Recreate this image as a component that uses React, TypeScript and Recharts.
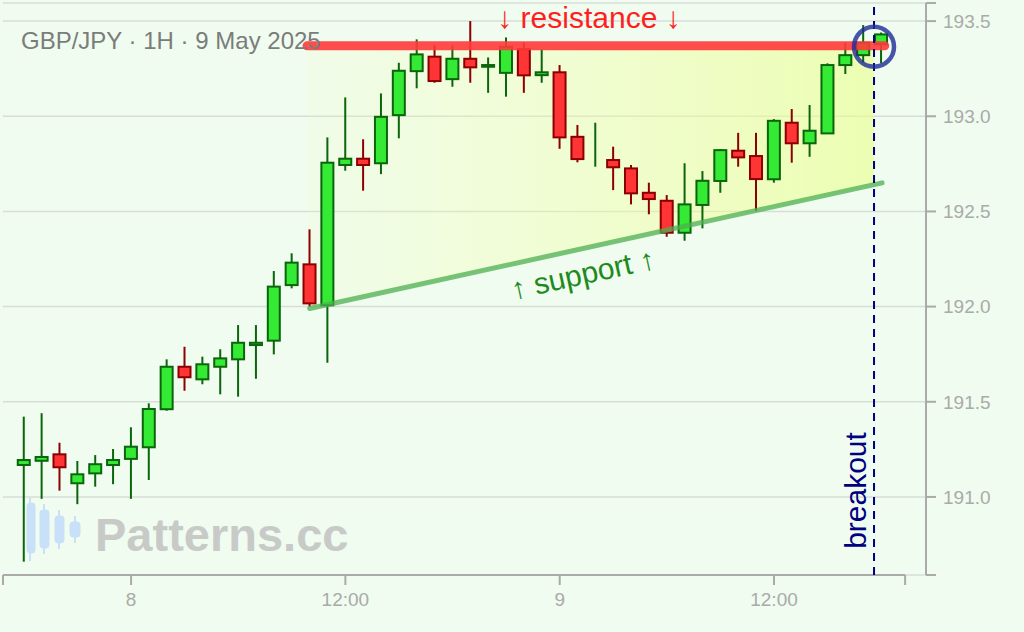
import { ComposedChart, Bar, Area, XAxis, YAxis, CartesianGrid, ReferenceLine, ReferenceDot } from 'recharts'

// hours from 8 May 00:00, one candle per hour
const hours = [-6, -5, -4, -3, -2, -1, 0, 1, 2, 3, 4, 5, 6, 7, 8, 9, 10, 11, 12, 13, 14, 15, 16, 17, 18, 19, 20, 21, 22, 23, 24, 25, 26, 27, 28, 29, 30, 31, 32, 33, 34, 35, 36, 37, 38, 39, 40, 41, 42]
const opens = [191.168, 191.19, 191.224, 191.072, 191.124, 191.168, 191.2, 191.261, 191.461, 191.684, 191.618, 191.684, 191.723, 191.798, 191.821, 192.113, 192.222, 192.007, 192.744, 192.777, 192.753, 193.006, 193.237, 193.313, 193.195, 193.302, 193.26, 193.228, 193.353, 193.216, 193.231, 192.892, 192.85, 192.77, 192.726, 192.598, 192.556, 192.388, 192.534, 192.66, 192.819, 192.791, 192.669, 192.966, 192.858, 192.91, 193.269, 193.321, 193.378]
const highs = [191.422, 191.44, 191.285, 191.189, 191.22, 191.252, 191.366, 191.492, 191.723, 191.789, 191.737, 191.776, 191.903, 191.903, 192.187, 192.28, 192.406, 192.889, 193.099, 192.879, 193.12, 193.281, 193.404, 193.374, 193.374, 193.5, 193.309, 193.414, 193.386, 193.351, 193.269, 192.954, 192.966, 192.84, 192.744, 192.651, 192.586, 192.753, 192.712, 192.828, 192.913, 192.913, 192.985, 193.038, 193.059, 193.278, 193.386, 193.479, 193.44]
const lows = [190.66, 190.99, 191.033, 190.962, 191.054, 191.067, 190.99, 191.089, 191.453, 191.558, 191.592, 191.539, 191.527, 191.621, 191.749, 192.096, 192.0, 191.705, 192.714, 192.609, 192.696, 192.884, 193.147, 193.176, 193.155, 193.176, 193.123, 193.103, 193.123, 193.176, 192.829, 192.758, 192.735, 192.612, 192.537, 192.485, 192.367, 192.346, 192.411, 192.598, 192.735, 192.504, 192.651, 192.756, 192.787, 192.907, 193.222, 193.283, 193.278]
const closes = [191.194, 191.21, 191.156, 191.119, 191.172, 191.194, 191.264, 191.462, 191.684, 191.629, 191.697, 191.728, 191.81, 191.81, 192.105, 192.231, 192.017, 192.756, 192.777, 192.744, 192.997, 193.239, 193.325, 193.185, 193.302, 193.257, 193.269, 193.365, 193.215, 193.231, 192.889, 192.775, 192.85, 192.732, 192.595, 192.565, 192.388, 192.537, 192.661, 192.822, 192.784, 192.67, 192.976, 192.858, 192.924, 193.269, 193.321, 193.386, 193.43]

const xDomain = [-7.17, 44.51]
const xTicks = [-7.17, 0, 12, 24, 36, 43.34]
const xTickLabels: Record<number, string> = { 0: '8', 12: '12:00', 24: '9', 36: '12:00' }
const yDomain = [190.59, 193.595]
const yTicks = [190.59, 191, 191.5, 192, 192.5, 193, 193.5, 193.595]
const yTickLabels = [191, 191.5, 192, 192.5, 193, 193.5]

const resistanceLevel = 193.37
const resistanceSpan = [9.85, 42.2]
const supportStart = { t: 10, v: 191.99 }
const supportEnd = { t: 42.05, v: 192.65 }
const breakoutHour = 41.6
const zoneT = [9.85, 41.6]
const zoneLow = [191.987, 192.641]

const candles = hours.map((t, i) => ({ t, open: opens[i], high: highs[i], low: lows[i], close: closes[i] }))
const zone = zoneT.map((t, i) => ({ t, lo: zoneLow[i], hi: resistanceLevel }))

const FONT = '"Liberation Sans", Arial, Helvetica, sans-serif'
const BODY_W = 12

function Candle(props: any) {
  const { x, y, width, height, payload } = props
  const { open, close, high, low } = payload
  const up = close >= open
  const k = height / (high - low)
  const top = y + (high - Math.max(open, close)) * k
  const bottom = y + (high - Math.min(open, close)) * k
  const cx = x + width / 2
  const edge = up ? '#0b650b' : '#8b0000'
  const fill = up ? '#35ea35' : '#ff3535'
  return (
    <g>
      <line x1={cx} x2={cx} y1={y} y2={y + height} stroke={edge} strokeWidth={2} />
      {open !== close && (
        <rect x={cx - BODY_W / 2} y={top} width={BODY_W} height={Math.max(bottom - top, 1)} fill={fill} stroke={edge} strokeWidth={2} />
      )}
    </g>
  )
}

export default function App() {
  return (
    <div style={{ position: 'relative', width: 1024, height: 632, background: '#effcef', fontFamily: FONT }}>
      <style>{'body{margin:0}'}</style>
      {/* watermark */}
      <svg width={1024} height={632} style={{ position: 'absolute', left: 0, top: 0 }}>
        <g fill="#c9e1f8" stroke="#c9e1f8">
          <line x1={30} x2={30} y1={498} y2={561} strokeWidth={2} />
          <rect x={27} y={503} width={8} height={50} rx={3} />
          <line x1={44} x2={44} y1={504} y2={554} strokeWidth={2} />
          <rect x={40} y={510} width={9} height={38} rx={3} />
          <line x1={59} x2={59} y1={510} y2={549} strokeWidth={2} />
          <rect x={55} y={516} width={9} height={27} rx={3} />
          <line x1={75} x2={75} y1={516} y2={543} strokeWidth={2} />
          <rect x={70} y={522} width={10} height={15} rx={3} />
        </g>
        <text x={95} y={551} fontSize={47} fontWeight="bold" fill="#c8cac8" fontFamily={FONT}>Patterns.cc</text>
      </svg>
      <div style={{ position: 'absolute', left: 0, top: 0 }}>
        <ComposedChart width={1024} height={632} data={candles} margin={{ top: 3, right: 0, bottom: 0, left: 3 }}>
          <defs>
            <linearGradient id="zoneFill" x1="0" y1="0" x2="1" y2="0">
              <stop offset="0%" stopColor="#fbff9a" stopOpacity={0.08} />
              <stop offset="100%" stopColor="#eaff8a" stopOpacity={0.6} />
            </linearGradient>
          </defs>
          <CartesianGrid vertical={false} stroke="#d9ddd9" strokeWidth={1.5} />
          <XAxis
            dataKey="t"
            type="number"
            domain={xDomain}
            allowDataOverflow
            ticks={xTicks}
            interval={0}
            tickFormatter={(v: number) => xTickLabels[v] ?? ''}
            axisLine={false}
            tickLine={{ stroke: '#aaaaaa', strokeWidth: 2 }}
            tickSize={10}
            tickMargin={8}
            tick={{ fill: '#aaaaaa', fontSize: 19, fontFamily: FONT }}
            height={57}
          />
          <YAxis
            orientation="right"
            type="number"
            domain={yDomain}
            allowDataOverflow
            ticks={yTicks}
            interval={0}
            tickFormatter={(v: number) => (yTickLabels.includes(v) ? v.toFixed(1) : '')}
            axisLine={{ stroke: '#aaaaaa', strokeWidth: 2 }}
            tickLine={{ stroke: '#aaaaaa', strokeWidth: 2 }}
            tickSize={10}
            tickMargin={7}
            tick={{ fill: '#aaaaaa', fontSize: 19, fontFamily: FONT }}
            width={98}
          />
          <ReferenceLine
            segment={[{ x: xTicks[0], y: yDomain[0] }, { x: xTicks[xTicks.length - 1], y: yDomain[0] }]}
            stroke="#aaaaaa"
            strokeWidth={2}
            ifOverflow="visible"
          />
          <Area
            data={zone}
            dataKey={(d: any) => [d.lo, d.hi]}
            type="linear"
            stroke="none"
            fill="url(#zoneFill)"
            fillOpacity={1}
            dot={false}
            activeDot={false}
            isAnimationActive={false}
          />
          <ReferenceLine
            segment={[{ x: resistanceSpan[0], y: resistanceLevel }, { x: resistanceSpan[1], y: resistanceLevel }]}
            stroke="#ff3a3a"
            strokeOpacity={0.9}
            strokeWidth={9}
            strokeLinecap="round"
          />
          <ReferenceLine
            segment={[{ x: supportStart.t, y: supportStart.v }, { x: supportEnd.t, y: supportEnd.v }]}
            stroke="#4caf50"
            strokeOpacity={0.75}
            strokeWidth={5}
            strokeLinecap="round"
          />
          <Bar dataKey={(d: any) => [d.low, d.high]} barSize={12} shape={Candle} isAnimationActive={false} />
          <ReferenceLine x={breakoutHour} stroke="#000080" strokeWidth={2} strokeDasharray="8 6" />
          <ReferenceDot x={breakoutHour} y={193.365} r={20} fill="none" stroke="#1c2a98" strokeOpacity={0.8} strokeWidth={4.5} />
          <ReferenceDot
            x={25.64}
            y={193.463}
            r={0}
            shape={(p: any) => (
              <text x={p.cx} y={p.cy} textAnchor="middle" fontSize={30} fill="#ff1f1f" fontFamily={FONT}>↓ resistance ↓</text>
            )}
          />
          <ReferenceDot
            x={25.42}
            y={192.119}
            r={0}
            shape={(p: any) => (
              <text x={p.cx} y={p.cy} textAnchor="middle" fontSize={30} fill="#1e8a1e" fontFamily={FONT} transform={`rotate(-12.4 ${p.cx} ${p.cy})`}>↑ support ↑</text>
            )}
          />
          <ReferenceDot
            x={41.15}
            y={191.034}
            r={0}
            shape={(p: any) => (
              <text x={p.cx} y={p.cy} textAnchor="middle" fontSize={30} fill="#000080" fontFamily={FONT} transform={`rotate(-90 ${p.cx} ${p.cy})`}>breakout</text>
            )}
          />
        </ComposedChart>
      </div>
      <svg width={1024} height={632} style={{ position: 'absolute', left: 0, top: 0, pointerEvents: 'none' }}>
        <text x={21} y={49} fontSize={24} fill="#7a7d7a" fontFamily={FONT}>GBP/JPY · 1H · 9 May 2025</text>
      </svg>
    </div>
  )
}
